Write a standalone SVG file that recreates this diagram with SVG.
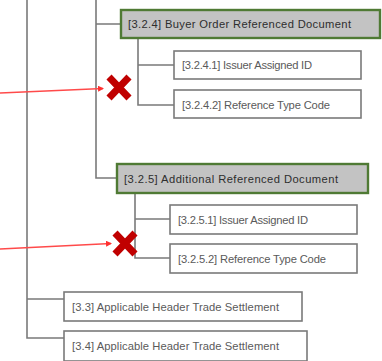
<svg xmlns="http://www.w3.org/2000/svg" width="382" height="361" viewBox="0 0 382 361">
  <style>
    .link { stroke: #7a7a7a; stroke-width: 1.6; fill: none; }
    .leaf rect { fill: #ffffff; stroke: #7a7a7a; stroke-width: 1.6; }
    .head rect { fill: #c3c3c3; stroke: #4f7a34; stroke-width: 2.4; }
    text { font-family: "Liberation Sans", Arial, sans-serif; font-size: 11.2px; }
    .leaf text { fill: #5a5a5a; }
    .head text { fill: #2e2e2e; }
    .cross { stroke: #c00000; stroke-width: 7; stroke-linecap: butt; }
    .pointer { stroke: #ff4a4a; stroke-width: 1.4; fill: none; }
  </style>
  <defs>
    <marker id="tip" markerWidth="6" markerHeight="6" refX="5" refY="3" orient="auto" markerUnits="userSpaceOnUse">
      <path d="M0,0 L6,3 L0,6 Z" fill="#ff3030"/>
    </marker>
  </defs>

  <g id="connectors">
    <!-- outer trunk to [3.3] and [3.4] -->
    <path class="link" d="M27,0 V338 H64 M27,299 H64"/>
    <!-- [3.2] trunk to [3.2.4] and [3.2.5] -->
    <path class="link" d="M96,0 V178 H117 M96,24 H121"/>
    <!-- [3.2.4] children -->
    <path class="link" d="M138,38 V105 H174 M138,65 H174"/>
    <!-- [3.2.5] children -->
    <path class="link" d="M135,193 V258 H170 M135,219 H170"/>
  </g>

  <g id="n324" class="head">
    <rect x="121" y="10" width="259" height="28"/>
    <text x="128" y="28" textLength="223" lengthAdjust="spacing">[3.2.4] Buyer Order Referenced Document</text>
  </g>
  <g id="n3241" class="leaf">
    <rect x="174" y="51" width="187" height="28"/>
    <text x="182" y="69" textLength="130" lengthAdjust="spacing">[3.2.4.1] Issuer Assigned ID</text>
  </g>
  <g id="n3242" class="leaf">
    <rect x="174" y="90" width="187" height="28"/>
    <text x="182" y="109" textLength="148" lengthAdjust="spacing">[3.2.4.2] Reference Type Code</text>
  </g>

  <g id="n325" class="head">
    <rect x="117" y="164" width="251" height="29"/>
    <text x="124" y="183" textLength="214" lengthAdjust="spacing">[3.2.5] Additional Referenced Document</text>
  </g>
  <g id="n3251" class="leaf">
    <rect x="170" y="205" width="187" height="29"/>
    <text x="178" y="224" textLength="130" lengthAdjust="spacing">[3.2.5.1] Issuer Assigned ID</text>
  </g>
  <g id="n3252" class="leaf">
    <rect x="170" y="244" width="187" height="29"/>
    <text x="178" y="263" textLength="148" lengthAdjust="spacing">[3.2.5.2] Reference Type Code</text>
  </g>

  <g id="n33" class="leaf">
    <rect x="64" y="292" width="238" height="29"/>
    <text x="72" y="311" textLength="207" lengthAdjust="spacing">[3.3] Applicable Header Trade Settlement</text>
  </g>
  <g id="n34" class="leaf">
    <rect x="64" y="331" width="243" height="30"/>
    <text x="72" y="350" textLength="207" lengthAdjust="spacing">[3.4] Applicable Header Trade Settlement</text>
  </g>

  <!-- removed-element markers with pointers -->
  <g id="mark1">
    <path class="pointer" d="M0,93 L103,88.5" marker-end="url(#tip)"/>
    <path class="cross" d="M109,77 L129,98 M129,77 L109,98"/>
  </g>
  <g id="mark2">
    <path class="pointer" d="M0,249 L111,243.5" marker-end="url(#tip)"/>
    <path class="cross" d="M115,233 L135,254 M135,233 L115,254"/>
  </g>
</svg>
